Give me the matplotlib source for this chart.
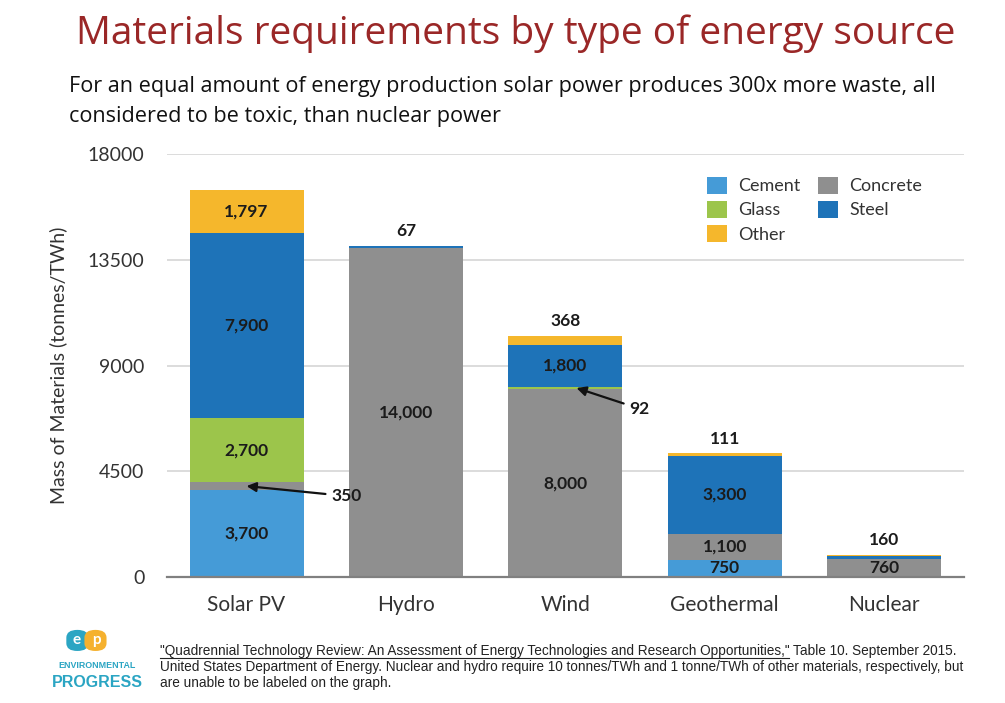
import matplotlib
matplotlib.use("Agg")
import matplotlib.pyplot as plt
from matplotlib.patches import FancyBboxPatch
import numpy as np

categories = ['Solar PV', 'Hydro', 'Wind', 'Geothermal', 'Nuclear']
cement = [3700, 0, 0, 750, 0]
concrete = [350, 14000, 8000, 1100, 760]
glass = [2700, 0, 92, 0, 0]
steel = [7900, 67, 1800, 3300, 160]
other = [1797, 1, 368, 111, 10]
yticks = [0, 4500, 9000, 13500, 18000]

series_names = ['Cement', 'Concrete', 'Glass', 'Steel', 'Other']
series_vals = [cement, concrete, glass, steel, other]
colors = {'Cement': '#459bd7', 'Concrete': '#8f8f8f', 'Glass': '#9cc54b',
          'Steel': '#1e73b8', 'Other': '#f5b72c'}

# labels: (series, category index)
inside_labels = [('Other', 0), ('Steel', 0), ('Glass', 0), ('Cement', 0),
                 ('Concrete', 1), ('Steel', 2), ('Concrete', 2),
                 ('Steel', 3), ('Concrete', 3), ('Cement', 3), ('Concrete', 4)]
top_labels = [('Steel', 1), ('Other', 2), ('Other', 3), ('Steel', 4)]
arrow_labels = [('Concrete', 0, 0.53, 3450), ('Glass', 2, 2.40, 7170)]

plt.rcParams['font.family'] = ['Lato', 'DejaVu Sans']

fig = plt.figure(figsize=(10.05, 7.03), dpi=100)
ax = fig.add_axes([0.166, 0.179, 0.793, 0.602])

x = np.arange(len(categories))
bottom = np.zeros(len(categories))
bottoms = {}
for name, vals in zip(series_names, series_vals):
    v = np.array(vals, dtype=float)
    bottoms[name] = bottom.copy()
    ax.bar(x, v, bottom=bottom, width=0.715, color=colors[name], label=name,
           zorder=3, linewidth=0)
    bottom = bottom + v

vals_map = dict(zip(series_names, series_vals))
for name, i in inside_labels:
    v = vals_map[name][i]
    ax.text(x[i], bottoms[name][i] + v / 2, f"{v:,}", ha='center', va='center',
            fontsize=12.5, fontweight='bold', color='#1b1b1b', zorder=5)
for name, i in top_labels:
    v = vals_map[name][i]
    ax.annotate(f"{v:,}", (x[i], bottom[i]), xytext=(0, 5), textcoords='offset points',
                ha='center', va='bottom', fontsize=12.5, fontweight='bold',
                color='#1b1b1b', zorder=5)
for name, i, tx, ty in arrow_labels:
    v = vals_map[name][i]
    ax.annotate(f"{v:,}", (x[i] + (0.0 if i == 0 else 0.07), bottoms[name][i] + v / 2),
                xytext=(tx, ty), textcoords='data', ha='left', va='center',
                fontsize=12.5, fontweight='bold', color='#1b1b1b', zorder=6,
                arrowprops=dict(arrowstyle='-|>', color='#111111', lw=1.6,
                                shrinkA=2, shrinkB=0, mutation_scale=14))

ax.set_xlim(-0.5, 4.5)
ax.set_ylim(0, 18000)
ax.set_yticks(yticks)
ax.set_yticklabels([str(t) for t in yticks])
ax.set_xticks(x)
ax.set_xticklabels(categories)
ax.tick_params(axis='y', length=0, pad=16, labelsize=14, labelcolor='#333333')
ax.tick_params(axis='x', length=0, pad=13, labelsize=15, labelcolor='#333333')
ax.yaxis.grid(True, color='#d9d9d9', lw=1.3, zorder=0)
ax.set_axisbelow(True)
for s in ['top', 'right', 'left']:
    ax.spines[s].set_visible(False)
ax.spines['bottom'].set_color('#808080')
ax.spines['bottom'].set_linewidth(1.6)
ax.spines['bottom'].set_zorder(4)
ax.set_ylabel('Mass of Materials (tonnes/TWh)', fontsize=14, color='#333333', labelpad=15)

handles, labels = ax.get_legend_handles_labels()
order = ['Cement', 'Glass', 'Other', 'Concrete', 'Steel']
hmap = dict(zip(labels, handles))
leg = ax.legend([hmap[o] for o in order], order, ncol=2, frameon=False,
                loc='upper left', bbox_to_anchor=(0.658, 0.985), fontsize=13,
                handlelength=1.1, handleheight=1.1, handletextpad=0.6,
                columnspacing=1.0, labelspacing=0.35, labelcolor='#333333')

# Titles
fig.text(0.513, 0.952, 'Materials requirements by type of energy source',
         ha='center', va='center', fontsize=28, color='#9a2727',
         family=['Open Sans', 'DejaVu Sans'])
fig.text(0.069, 0.877, 'For an equal amount of energy production solar power produces 300x more waste, all',
         ha='left', va='center', fontsize=15.6, color='#111111',
         family=['Open Sans', 'DejaVu Sans'])
fig.text(0.069, 0.834, 'considered to be toxic, than nuclear power',
         ha='left', va='center', fontsize=15.6, color='#111111',
         family=['Open Sans', 'DejaVu Sans'])

# Footer
foot_family = ['Liberation Sans Narrow', 'Liberation Sans', 'DejaVu Sans']
fs_foot = 9.85
t1 = fig.text(0.159, 0.068, '"Quadrennial Technology Review: An Assessment of Energy Technologies and Research Opportunities,"',
              ha='left', va='baseline', fontsize=fs_foot, color='#222222', family=foot_family)
r = fig.canvas.get_renderer()
bb = t1.get_window_extent(r)
fx0, fx1 = bb.x0 / fig.bbox.width, bb.x1 / fig.bbox.width
fy = 0.068 - 0.004
fig.add_artist(plt.Line2D([fx0, fx1], [fy, fy], color='#222222', lw=0.8))
fig.text(fx1 + 0.004, 0.068, 'Table 10. September 2015.', ha='left', va='baseline',
         fontsize=fs_foot, color='#222222', family=foot_family)
fig.text(0.159, 0.0455, 'United States Department of Energy. Nuclear and hydro require 10 tonnes/TWh and 1 tonne/TWh of other materials, respectively, but',
         ha='left', va='baseline', fontsize=fs_foot, color='#222222', family=foot_family)
fig.text(0.159, 0.023, 'are unable to be labeled on the graph.',
         ha='left', va='baseline', fontsize=fs_foot, color='#222222', family=foot_family)

# Logo
teal = '#2ba5c3'
orange = '#f5b12e'
fig.add_artist(FancyBboxPatch((0.066, 0.074), 0.022, 0.030, boxstyle='round,pad=0,rounding_size=0.011',
                              transform=fig.transFigure, color=teal, lw=0))
fig.add_artist(FancyBboxPatch((0.084, 0.074), 0.022, 0.030, boxstyle='round,pad=0,rounding_size=0.011',
                              transform=fig.transFigure, color=orange, lw=0))
fig.text(0.076, 0.089, 'e', ha='center', va='center', fontsize=11, color='white', fontweight='bold')
fig.text(0.096, 0.089, 'p', ha='center', va='center', fontsize=11, color='white', fontweight='bold')
fig.text(0.0965, 0.054, 'ENVIRONMENTAL', ha='center', va='center', fontsize=6.4, color=teal,
         fontweight='bold', family=['Liberation Sans', 'DejaVu Sans'])
fig.text(0.0965, 0.029, 'PROGRESS', ha='center', va='center', fontsize=11.5, color=teal,
         fontweight='bold', family=['Liberation Sans', 'DejaVu Sans'])

fig.savefig('out.png', dpi=100)
